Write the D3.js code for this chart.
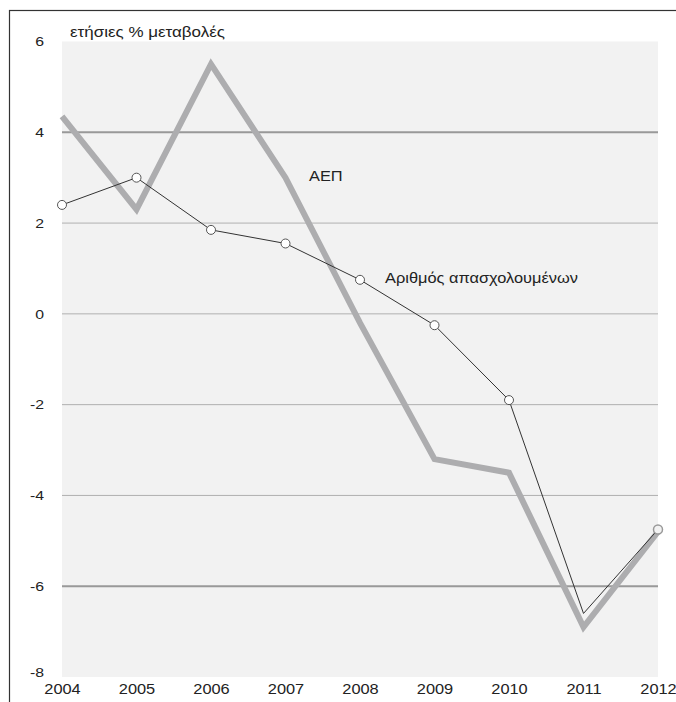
<!DOCTYPE html>
<html><head><meta charset="utf-8">
<script src="https://cdn.jsdelivr.net/npm/d3@7"></script>
<style>body{margin:0;background:#fff}svg{display:block;font-family:"Liberation Sans",Arial,sans-serif}</style>
</head><body><svg id="c" width="676" height="702"></svg>
<script>
const years = [2004,2005,2006,2007,2008,2009,2010,2011,2012];
const gdp = [4.35,2.3,5.5,3.0,-0.2,-3.2,-3.5,-6.9,-4.8];
const employment = [2.4,3.0,1.85,1.55,0.75,-0.25,-1.9,-6.6,-4.75];
const yTicks = [-8,-6,-4,-2,0,2,4,6];
const majorGrid = [4,-6];
const title = "ετήσιες % μεταβολές";
const gdpLabel = "ΑΕΠ";
const empLabel = "Αριθμός απασχολουμένων";

const STRETCH = 1.17;
function stretch(sel){
  sel.each(function(){
    const w = this.getComputedTextLength();
    this.setAttribute("textLength", w*STRETCH);
    this.setAttribute("lengthAdjust","spacingAndGlyphs");
  });
}

const svg = d3.select("#c");
const L = 62, R = 658, T = 41.5, B = 677;
const x = d3.scaleLinear().domain([2004,2012]).range([L,R]);
const y = d3.scaleLinear().domain([-8,6]).range([B,T]);

// outer frame
svg.append("rect").attr("x",9.5).attr("y",10.5).attr("width",700).attr("height",720)
  .attr("fill","none").attr("stroke","#333").attr("stroke-width",1.2);

// plot background
svg.append("rect").attr("x",L).attr("y",T).attr("width",R-L).attr("height",B-T).attr("fill","#f2f2f2");

// gridlines
svg.append("g").selectAll("line").data(yTicks.filter(d=>d>-8&&d<6)).join("line")
  .attr("x1",L).attr("x2",R).attr("y1",d=>y(d)).attr("y2",d=>y(d))
  .attr("stroke",d=>majorGrid.includes(d)?"#999":"#b0b0b0")
  .attr("stroke-width",d=>majorGrid.includes(d)?2:1);

// y axis labels
const yAxis = d3.axisLeft(y).tickValues(yTicks).tickSize(0).tickPadding(0).tickFormat(d=>String(d));
const ga = svg.append("g").attr("transform",`translate(${L-18},0)`).call(yAxis);
ga.select(".domain").remove();
ga.selectAll("text").attr("font-size",13.5).attr("fill","#222").attr("font-family","Liberation Sans, Arial, sans-serif");
ga.selectAll(".tick").filter(d=>d===-8).select("text").attr("dy","-0.05em");
stretch(ga.selectAll("text"));

// x axis labels
const xAxis = d3.axisBottom(x).tickValues(years).tickSize(0).tickPadding(0).tickFormat(d=>String(d));
const gx = svg.append("g").attr("transform",`translate(0,${B+7})`).call(xAxis);
gx.select(".domain").remove();
gx.selectAll("text").attr("font-size",14).attr("fill","#222").attr("font-family","Liberation Sans, Arial, sans-serif");
stretch(gx.selectAll("text"));

// title
stretch(svg.append("text").attr("x",70).attr("y",37).attr("font-size",14.5).attr("fill","#222").text(title));

// GDP line
const line = d3.line().x((d,i)=>x(years[i])).y(d=>y(d));
svg.append("path").datum(gdp).attr("d",line).attr("fill","none")
  .attr("stroke","#adadaf").attr("stroke-width",6).attr("stroke-linejoin","miter");

// employment line
svg.append("path").datum(employment).attr("d",line).attr("fill","none")
  .attr("stroke","#333").attr("stroke-width",1);
const last = years.length-1;
svg.append("g").selectAll("circle").data(employment.map((v,i)=>({v,i})).filter(d=>d.i!==7)).join("circle")
  .attr("cx",d=>x(years[d.i])).attr("cy",d=>y(d.v)).attr("r",4.5)
  .attr("fill",d=>d.i===last?"#f2f2f2":"#fff")
  .attr("stroke",d=>d.i===last?"#999":"#555").attr("stroke-width",d=>d.i===last?1.5:1);

// labels
stretch(svg.append("text").attr("x",309).attr("y",181).attr("font-size",14).attr("fill","#222").text(gdpLabel));
stretch(svg.append("text").attr("x",385).attr("y",283).attr("font-size",14).attr("fill","#222").text(empLabel));
</script></body></html>
